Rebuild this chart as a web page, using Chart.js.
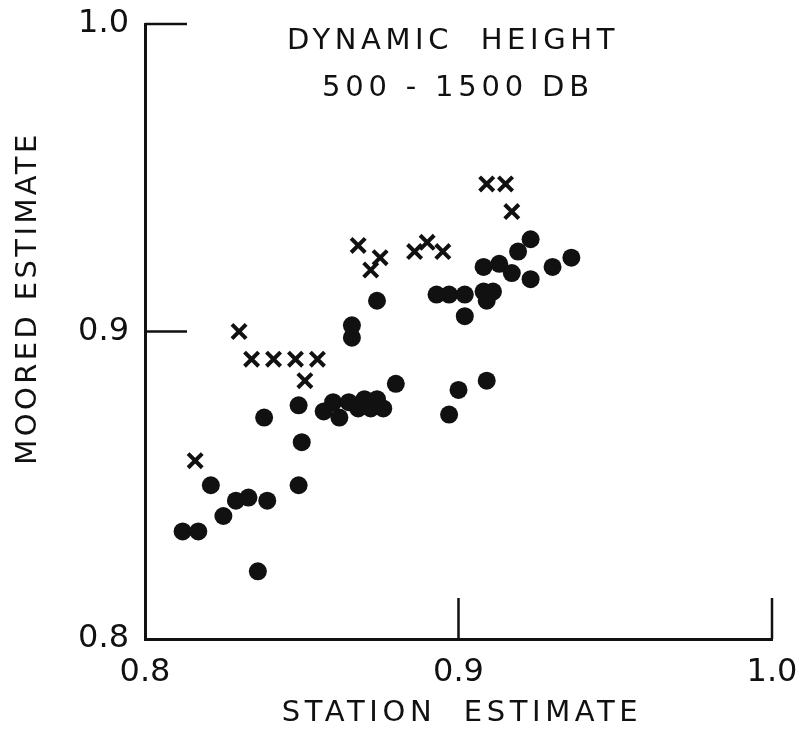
<!DOCTYPE html>
<html>
<head>
<meta charset="utf-8">
<script src="https://cdn.jsdelivr.net/npm/chart.js@4.4.1/dist/chart.umd.min.js"></script>
<style>
  html, body { margin: 0; padding: 0; background: #fff; }
</style>
</head>
<body>
<canvas id="chart" width="805" height="732"></canvas>
<script>
// filled circles
const dotStation = [0.812, 0.817, 0.821, 0.825, 0.829, 0.833, 0.839, 0.836, 0.838, 0.849,
                    0.850, 0.849, 0.866, 0.866, 0.874, 0.857, 0.862, 0.860, 0.865, 0.868,
                    0.870, 0.872, 0.874, 0.876, 0.880, 0.897, 0.900, 0.909, 0.893, 0.897,
                    0.902, 0.908, 0.911, 0.909, 0.902, 0.908, 0.913, 0.917, 0.919, 0.923,
                    0.923, 0.930, 0.936];
const dotMoored  = [0.835, 0.835, 0.850, 0.840, 0.845, 0.846, 0.845, 0.822, 0.872, 0.876,
                    0.864, 0.850, 0.902, 0.898, 0.910, 0.874, 0.872, 0.877, 0.877, 0.875,
                    0.878, 0.875, 0.878, 0.875, 0.883, 0.873, 0.881, 0.884, 0.912, 0.912,
                    0.912, 0.913, 0.913, 0.910, 0.905, 0.921, 0.922, 0.919, 0.926, 0.930,
                    0.917, 0.921, 0.924];
// x marks
const crossStation = [0.816, 0.830, 0.834, 0.841, 0.848, 0.855, 0.851, 0.868, 0.872, 0.875,
                      0.886, 0.890, 0.895, 0.909, 0.915, 0.917];
const crossMoored  = [0.858, 0.900, 0.891, 0.891, 0.891, 0.891, 0.884, 0.928, 0.920, 0.924,
                      0.926, 0.929, 0.926, 0.948, 0.948, 0.939];

const xTicks = [0.8, 0.9, 1.0];
const yTicks = [0.8, 0.9, 1.0];
const titleLines = ['DYNAMIC  HEIGHT', '500 - 1500 DB'];
const xTitle = 'STATION  ESTIMATE';
const yTitle = 'MOORED ESTIMATE';

const ink = '#111';
const font = 'DejaVu Sans';

const toPoints = (xs, ys) => xs.map((v, i) => ({ x: v, y: ys[i] }));

// tick marks drawn inward from the axes, plus the text labels
const decorations = {
    id: 'decorations',
    afterDraw(chart) {
        const { ctx, chartArea, scales: { x, y } } = chart;
        ctx.save();
        ctx.strokeStyle = ink;
        ctx.lineWidth = 2.5;
        ctx.beginPath();
        xTicks.slice(1).forEach(v => {
            const px = x.getPixelForValue(v);
            ctx.moveTo(px, chartArea.bottom);
            ctx.lineTo(px, chartArea.bottom - 41);
        });
        yTicks.slice(1).forEach(v => {
            const py = y.getPixelForValue(v);
            ctx.moveTo(chartArea.left, py);
            ctx.lineTo(chartArea.left + 42, py);
        });
        ctx.stroke();

        ctx.fillStyle = ink;
        ctx.textAlign = 'center';
        ctx.textBaseline = 'middle';
        ctx.font = '29px "' + font + '"';

        ctx.letterSpacing = '4.6px';
        ctx.fillText(titleLines[0], 453, 41);
        ctx.letterSpacing = '4.8px';
        ctx.fillText(titleLines[1], 458, 88);

        ctx.letterSpacing = '4.6px';
        ctx.fillText(xTitle, 462, 713);

        ctx.letterSpacing = '3.4px';
        ctx.translate(28, 298);
        ctx.rotate(-Math.PI / 2);
        ctx.fillText(yTitle, 0, 0);
        ctx.restore();
    }
};

new Chart(document.getElementById('chart'), {
    type: 'scatter',
    data: {
        datasets: [{
            label: 'circles',
            data: toPoints(dotStation, dotMoored),
            pointStyle: 'circle',
            pointRadius: 9,
            backgroundColor: ink,
            borderWidth: 0
        }, {
            label: 'crosses',
            data: toPoints(crossStation, crossMoored),
            pointStyle: 'crossRot',
            pointRadius: 10,
            borderColor: ink,
            borderWidth: 4
        }]
    },
    options: {
        responsive: false,
        animation: false,
        layout: { padding: { top: 24, right: 33, left: 0, bottom: 0 } },
        plugins: {
            legend: { display: false },
            tooltip: { enabled: false }
        },
        scales: {
            x: {
                type: 'linear',
                min: 0.8,
                max: 1.0,
                afterBuildTicks: s => { s.ticks = xTicks.map(v => ({ value: v })); },
                afterFit: s => {
                    s.height = 93;
                    s.paddingLeft = 0;
                    s.paddingRight = 0;
                },
                grid: { display: false, drawTicks: false },
                border: { color: ink, width: 3 },
                ticks: {
                    color: ink,
                    padding: 14,
                    maxRotation: 0,
                    font: { family: font, size: 32 },
                    callback: v => v.toFixed(1)
                }
            },
            y: {
                type: 'linear',
                min: 0.8,
                max: 1.0,
                afterBuildTicks: s => { s.ticks = yTicks.map(v => ({ value: v })); },
                afterFit: s => {
                    s.width = 145;
                    s.paddingTop = 0;
                    s.paddingBottom = 0;
                },
                grid: { display: false, drawTicks: false },
                border: { color: ink, width: 3 },
                ticks: {
                    color: ink,
                    padding: 16,
                    font: { family: font, size: 32 },
                    callback: v => v.toFixed(1)
                }
            }
        }
    },
    plugins: [decorations]
});
</script>
</body>
</html>
